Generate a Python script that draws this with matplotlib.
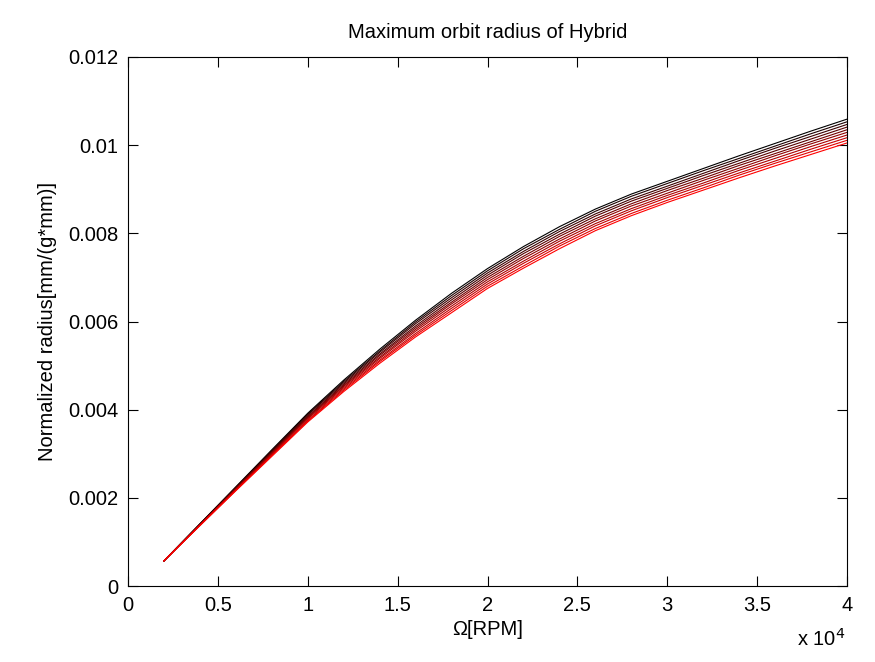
import numpy as np
import matplotlib
matplotlib.use('Agg')
import matplotlib.pyplot as plt
from matplotlib.ticker import FuncFormatter

plt.rcParams['font.family'] = ['Liberation Sans', 'DejaVu Sans']

# rotor speed [RPM]
omega = [2000, 4000, 6000, 8000, 10000, 12000, 14000, 16000, 18000, 20000,
         22000, 24000, 26000, 28000, 30000, 32000, 34000, 36000, 38000, 40000]

# normalized max orbit radius in units of 1e-5, one row per case (black -> red)
r0 = [57, 141, 225, 309, 392, 467, 537, 603, 664, 720, 770, 815, 855, 889, 918, 947, 976, 1004, 1032, 1059]
r1 = [57, 141, 224, 307, 390, 464, 533, 599, 659, 715, 765, 809, 850, 884, 913, 942, 970, 998, 1026, 1053]
r2 = [57, 140, 223, 306, 388, 461, 530, 595, 654, 710, 759, 804, 844, 878, 907, 936, 965, 993, 1020, 1047]
r3 = [57, 140, 222, 304, 385, 458, 526, 590, 649, 705, 754, 798, 839, 873, 902, 931, 959, 987, 1014, 1041]
r4 = [57, 139, 221, 302, 383, 455, 523, 586, 644, 700, 748, 793, 833, 867, 897, 925, 954, 981, 1008, 1035]
r5 = [57, 139, 220, 301, 381, 453, 519, 582, 640, 695, 743, 787, 828, 862, 891, 920, 948, 976, 1003, 1029]
r6 = [57, 138, 219, 299, 379, 450, 516, 578, 635, 690, 737, 782, 822, 856, 886, 914, 943, 970, 997, 1023]
r7 = [57, 138, 218, 297, 376, 447, 512, 573, 630, 685, 732, 776, 817, 851, 881, 909, 937, 964, 991, 1017]
r8 = [57, 137, 217, 296, 374, 444, 509, 569, 625, 680, 726, 771, 811, 845, 875, 903, 932, 959, 985, 1011]
r9 = [57, 137, 216, 294, 372, 441, 505, 565, 620, 675, 721, 765, 806, 840, 870, 898, 926, 953, 979, 1005]
curves = [r0, r1, r2, r3, r4, r5, r6, r7, r8, r9]

xticks = [0, 5000, 10000, 15000, 20000, 25000, 30000, 35000, 40000]
xticklabels = ['0', '0.5', '1', '1.5', '2', '2.5', '3', '3.5', '4']
yticks = [0, 0.002, 0.004, 0.006, 0.008, 0.010, 0.012]

fig = plt.figure(figsize=(8.75, 6.62), dpi=100)
ax = fig.add_axes([0.1463, 0.1148, 0.8217, 0.7991])

n = len(curves)
for i, r in enumerate(curves):
    ax.plot(omega, np.array(r)*1e-5, color=(i/(n-1), 0, 0), lw=0.8)

ax.set_xlim(0, 40000)
ax.set_ylim(0, 0.012)
ax.set_xticks(xticks)
ax.set_xticklabels(xticklabels)
ax.set_yticks(yticks)
ax.yaxis.set_major_formatter(FuncFormatter(lambda v, p: '%g' % v))
ax.tick_params(direction='in', top=True, right=True, length=7, width=0.8, labelsize=14.5, pad=7)
for s in ax.spines.values():
    s.set_linewidth(0.8)

ax.set_title('Maximum orbit radius of Hybrid', fontsize=14.5, pad=14)
ax.set_xlabel('\u03a9[RPM]', fontsize=14.5, labelpad=4)
ax.set_ylabel('Normalized radius[mm/(g*mm)]', fontsize=14.5, labelpad=8)
ax.text(0.93, -0.1, 'x 10$^4$', transform=ax.transAxes, fontsize=14.5, va='center', ha='left')

fig.savefig('out.png', dpi=100)
